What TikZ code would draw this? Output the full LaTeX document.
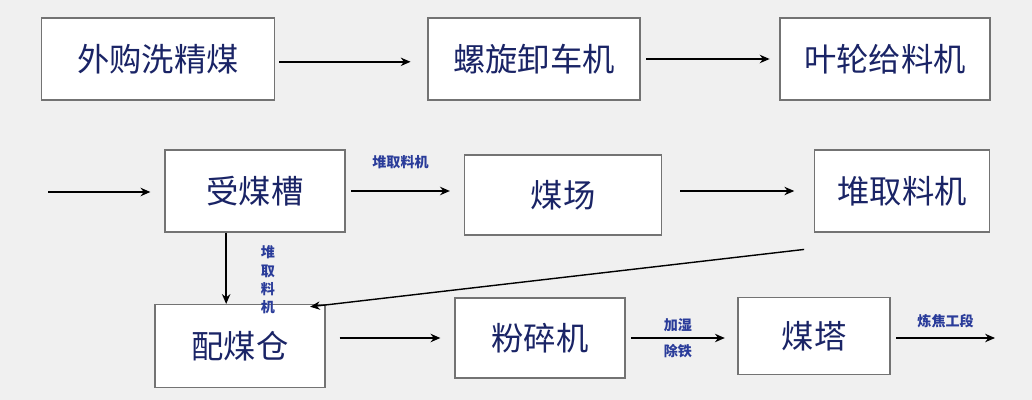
\documentclass[tikz,border=0pt]{standalone}
\usepackage{fontspec}
\setmainfont{Noto Sans CJK SC}
\usetikzlibrary{arrows.meta}
\definecolor{txt}{HTML}{1A2466}
\definecolor{lbl}{HTML}{2A3C9A}
\tikzset{
  box/.style={draw=black!55,line width=0.8pt,fill=white,inner sep=0pt,text=txt,font=\fontsize{23}{26}\selectfont},
  arr/.style={-{Stealth[length=7pt,width=6pt]},line width=1pt,black},
  lab/.style={text=lbl,font=\fontsize{10}{11}\selectfont\bfseries,inner sep=1pt}
}
\begin{document}
\begin{tikzpicture}[x=0.025cm,y=-0.025cm]
\fill[black!6] (0,0) rectangle (1032,400);
\useasboundingbox (0,0) rectangle (1032,400);
\node[box,minimum width=233*0.025cm,minimum height=82*0.025cm] (a) at (158,59) {外购洗精煤};
\node[box,minimum width=212*0.025cm,minimum height=82*0.025cm] (b) at (534,59) {螺旋卸车机};
\node[box,minimum width=210*0.025cm,minimum height=82*0.025cm] (c) at (885,59) {叶轮给料机};
\node[box,minimum width=180*0.025cm,minimum height=82*0.025cm] (d) at (255,191) {受煤槽};
\node[box,minimum width=197*0.025cm,minimum height=80*0.025cm] (e) at (563,195) {煤场};
\node[box,minimum width=175*0.025cm,minimum height=82*0.025cm] (f) at (902,191) {堆取料机};
\node[box,minimum width=170*0.025cm,minimum height=83*0.025cm] (g) at (240,346) {配煤仓};
\node[box,minimum width=170*0.025cm,minimum height=80*0.025cm] (h) at (540,338) {粉碎机};
\node[box,minimum width=152*0.025cm,minimum height=77*0.025cm] (i) at (814,336) {煤塔};
\coordinate (s) at (48,192);
\coordinate (t) at (995,338);
\draw[arr] ([xshift=3pt,yshift=-2pt]a.east) -- ([xshift=-12pt,yshift=-2pt]b.west);
\draw[arr] ([xshift=4pt]b.east) -- ([xshift=-7pt]c.west);
\draw[arr] (s) -- ([xshift=-10pt]d.west |- s);
\draw[arr] ([xshift=4pt]d.east) -- ([xshift=-10pt]e.west |- d.east) node[lab,midway,above=14pt] {堆取料机};
\draw[arr] ([xshift=13pt]e.east |- f.west) -- ([xshift=-14pt]f.west);
\draw[arr] ([xshift=-20.5pt]d.south) -- ([xshift=-20.5pt]d.south |- g.north);
\node[lab,align=center,font=\fontsize{10}{13}\selectfont\bfseries] at (268,280) {堆\\取\\料\\机};
\draw[arr] ([xshift=-7pt,yshift=-12pt]f.south west) -- ([xshift=-11pt,yshift=-2pt]g.north east);
\draw[arr] ([xshift=10pt]g.east |- h.west) -- ([xshift=-10pt]h.west);
\draw[arr] ([xshift=4pt]h.east) -- ([xshift=-9pt]i.west |- h.east) node[lab,midway,above=3pt] {加湿} node[lab,midway,below=3pt] {除铁};
\draw[arr] ([xshift=4pt]i.east |- t) -- (t) node[lab,midway,above=6pt] {炼焦工段};
\end{tikzpicture}
\end{document}
